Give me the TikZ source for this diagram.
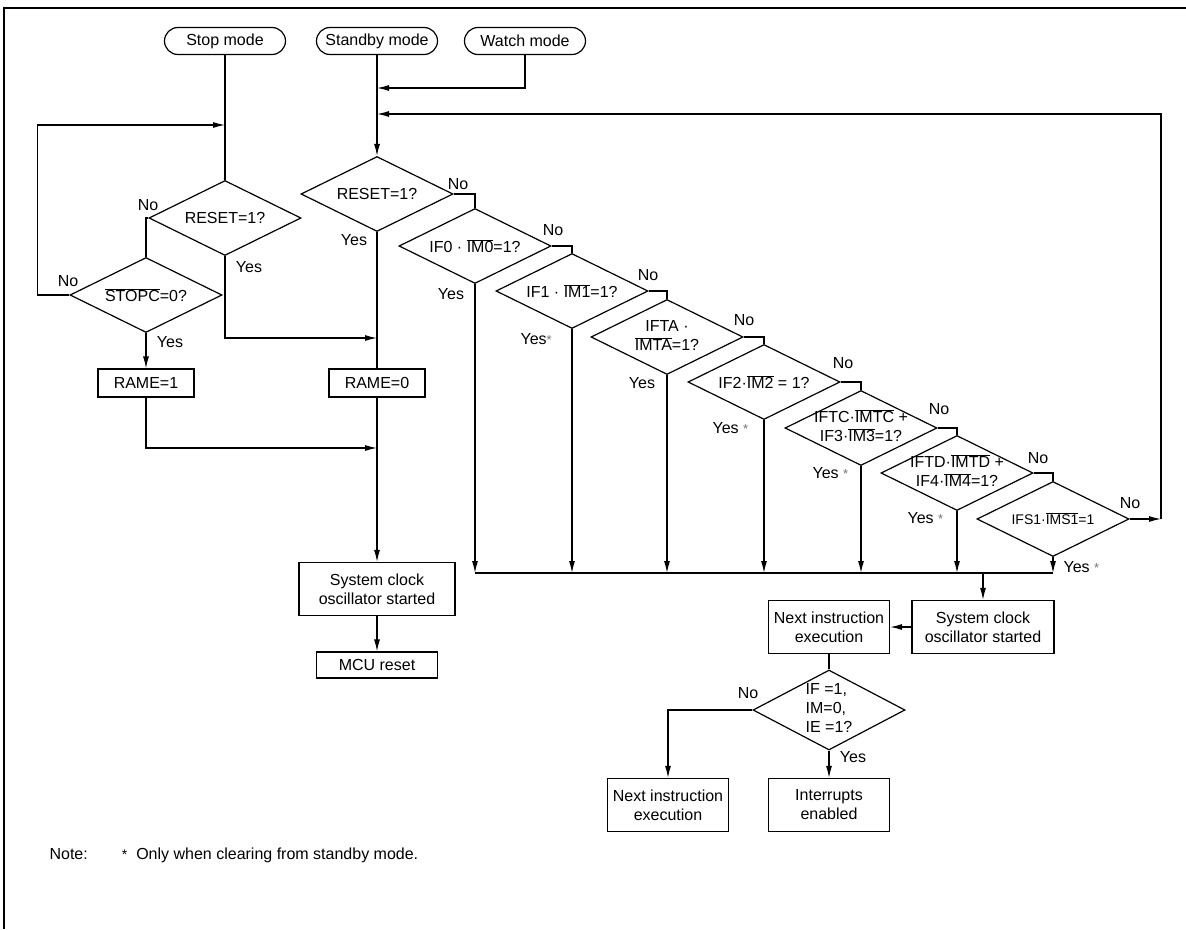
\documentclass[tikz,border=0pt]{standalone}
\usepackage{fontspec}
\setmainfont{Liberation Sans}
\usepackage{tikz}
\usetikzlibrary{shapes.geometric,arrows.meta}
\tikzset{>={Latex[length=12pt,width=6pt]}}
\tikzset{
  every node/.style={font=\fontsize{16}{19}\selectfont},
  term/.style={draw,rectangle,rounded corners=13.5pt,minimum width=121pt,minimum height=27pt,inner sep=0pt},
  box/.style={draw,rectangle,align=center,inner sep=2pt,minimum width=121pt,minimum height=53pt},
  decision/.style={draw,diamond,aspect=2,inner sep=0pt,minimum width=152pt,minimum height=75pt},
  lbl/.style={inner sep=0pt},
}
\newcommand{\ovl}[1]{$\overline{\mbox{#1}}$}
\newcommand{\dtext}[1]{\makebox[0pt]{\begin{tabular}{@{}c@{}}#1\end{tabular}}}
\newcommand{\sbmark}{\textcolor{black!55}{\fontsize{13}{13}\selectfont *}}

\begin{document}
\begin{tikzpicture}[x=1pt,y=-1pt,line width=1.2pt]
        \useasboundingbox (0,0) rectangle (1186,929);
        \draw (4,929) -- (4,8) -- (1186,8);
        %%%
        \node[term] (stop) at (225,41) {Stop mode};
        \node[term] (standby) at (377,41) {Standby mode};
        \node[term] (watch) at (525,41) {Watch mode};
        %%%
        \node[decision] (rsta) at (225,218) {RESET=1?};
        \node[decision] (stopc) at (146,295) {\ovl{STOPC}=0?};
        \node[box,minimum width=96pt,minimum height=28pt] (rame1) at (146,383) {RAME=1};
        \node[decision] (rstb) at (377,194) {RESET=1?};
        \node[box,minimum width=96pt,minimum height=28pt] (rame0) at (377,383) {RAME=0};
        \node[box,minimum width=156pt] (sysa) at (377,589) {System clock\\oscillator started};
        \node[box,minimum height=26pt] (mcu) at (377,665) {MCU reset};
        %%%
        \node[decision] (if0) at (475,246) {IF0 · \ovl{IM0}=1?};
        \node[decision] (if1) at (572,291) {IF1 · \ovl{IM1}=1?};
        \node[decision] (ifta) at (667,337) {\dtext{IFTA ·\\\ovl{IMTA}=1?}};
        \node[decision] (if2) at (764,382) {IF2·\ovl{IM2} = 1?};
        \node[decision] (iftc) at (861,428) {\dtext{IFTC·\ovl{IMTC} +\\IF3·\ovl{IM3}=1?}};
        \node[decision] (iftd) at (957,473) {\dtext{IFTD·\ovl{IMTD} +\\IF4·\ovl{IM4}=1?}};
        \node[decision,font=\fontsize{14}{17}\selectfont] (ifs1) at (1053,519) {IFS1·\ovl{IMS1}=1};
        %%%
        \node[box,minimum width=142pt] (sysb) at (983,627) {System clock\\oscillator started};
        \node[box] (nexta) at (829,627) {Next instruction\\execution};
        \node[decision,minimum height=80pt] (ifie) at (829,710) {\makebox[0pt]{\begin{tabular}{@{}l@{}}IF =1,\\IM=0,\\IE =1?\end{tabular}}};
        \node[box] (nextb) at (668,805) {Next instruction\\execution};
        \node[box] (intr) at (829,805) {Interrupts\\enabled};
        %%%
        \coordinate (jwatch) at (377,88);
        \coordinate (jloop) at (377,114);
        \coordinate (jstop) at (225,125);
        \coordinate (jyes) at (377,338);
        \coordinate (jrame) at (377,448);
        \coordinate (loopr) at (1161,519);
        \coordinate (bus) at (0,573);
        %%%
        \draw (stop.south) -- (rsta.north);
        \draw[->] (standby.south) -- (rstb.north);
        \draw[->] (watch.south) |- (jwatch);
        \draw (rsta.west) -| (stopc.north);
        \draw[->] (stopc.west) -- ++(-32,0) |- (jstop);
        \draw[->] (stopc.south) -- (rame1.north);
        \draw[->] (rsta.south) |- (jyes);
        \draw (rstb.south) -- (rame0.north);
        \draw[->] (rame1.south) |- (jrame);
        \draw[->] (rame0.south) -- (sysa.north);
        \draw[->] (sysa.south) -- (mcu.north);
        %%%
        \draw (rstb.east) -| (if0.north);
        \draw (if0.east) -| (if1.north);
        \draw (if1.east) -| (ifta.north);
        \draw (ifta.east) -| (if2.north);
        \draw (if2.east) -| (iftc.north);
        \draw (iftc.east) -| (iftd.north);
        \draw (iftd.east) -| (ifs1.north);
        \draw[->] (ifs1.east) -- (loopr);
        \draw[->] (loopr) |- (jloop);
        %%%
        \draw[->] (if0.south) -- (if0.south |- bus);
        \draw[->] (if1.south) -- (if1.south |- bus);
        \draw[->] (ifta.south) -- (ifta.south |- bus);
        \draw[->] (if2.south) -- (if2.south |- bus);
        \draw[->] (iftc.south) -- (iftc.south |- bus);
        \draw[->] (iftd.south) -- (iftd.south |- bus);
        \draw[->] (ifs1.south) -- (ifs1.south |- bus);
        \draw (if0.south |- bus) -- (ifs1.south |- bus);
        \draw[->] (sysb.north |- bus) -- (sysb.north);
        \draw[->] (sysb.west) -- (nexta.east);
        \draw (nexta.south) -- (ifie.north);
        \draw[->] (ifie.west) -| (nextb.north);
        \draw[->] (ifie.south) -- (intr.north);
        %%%
        \node[lbl] (rstano) at (148,205) {No};
        \node[lbl] (rstayes) at (249,267) {Yes};
        \node[lbl] (stopcno) at (68,281) {No};
        \node[lbl] (stopcyes) at (170,342) {Yes};
        \node[lbl] (rstbyes) at (354,240) {Yes};
        \node[lbl] (rstbno) at (458,184) {No};
        \node[lbl] (if0no) at (553,230) {No};
        \node[lbl] (if0yes) at (451,294) {Yes};
        \node[lbl] (if1no) at (648,275) {No};
        \node[lbl,anchor=west] (if1yes) at (520,339) {Yes\sbmark};
        \node[lbl] (iftano) at (744,320) {No};
        \node[lbl] (iftayes) at (642,383) {Yes};
        \node[lbl] (if2no) at (843,363) {No};
        \node[lbl,anchor=west] (if2yes) at (712,428) {Yes \sbmark};
        \node[lbl] (iftcno) at (939,409) {No};
        \node[lbl,anchor=west] (iftcyes) at (812,473) {Yes \sbmark};
        \node[lbl] (iftdno) at (1038,458) {No};
        \node[lbl,anchor=west] (iftdyes) at (907,518) {Yes \sbmark};
        \node[lbl] (ifs1no) at (1130,503) {No};
        \node[lbl,anchor=west] (ifs1yes) at (1063,567) {Yes \sbmark};
        \node[lbl] (ifieno) at (748,693) {No};
        \node[lbl] (ifieyes) at (853,757) {Yes};
        %%%
        \node[lbl,anchor=west] (note) at (49,855) {Note:\hspace{34pt}{\fontsize{14}{14}\selectfont *}\hspace{9pt}Only when clearing from standby mode.};
    \end{tikzpicture}
\end{document}
